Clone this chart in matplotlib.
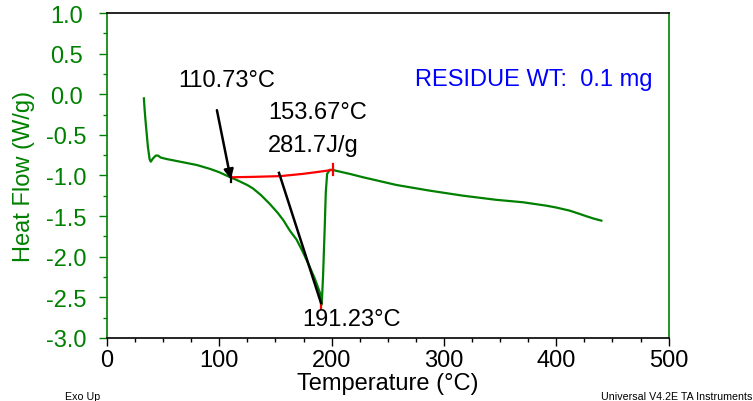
"""DSC thermogram: heat flow vs temperature with melting peak analysis."""

import matplotlib
matplotlib.use('Agg')
import matplotlib.pyplot as plt
from matplotlib.ticker import MultipleLocator, FormatStrFormatter

plt.rcParams['font.family'] = ['Liberation Sans', 'DejaVu Sans']

GREEN = '#008000'

# heat flow curve
temp = [32.9, 33.5, 34.5, 36.5, 38.0, 39.0, 41.0, 43.5, 45.5, 48.0, 53.0,
        65.0, 80.0, 92.0, 100.0, 109.4, 115.0, 120.0, 125.0, 130.0, 137.0,
        145.0, 152.0, 157.0, 162.8, 168.8, 174.0, 180.0, 185.0, 189.5, 191.2,
        192.4, 193.9, 194.8, 196.0, 198.4, 200.8, 216.0, 228.0, 257.7, 287.4,
        317.0, 346.7, 370.4, 391.2, 400.0, 411.9, 420.0, 426.8, 433.0, 440.1]
heat_flow = [-0.05, -0.18, -0.35, -0.65, -0.80, -0.83, -0.79, -0.755, -0.755,
             -0.78, -0.797, -0.83, -0.871, -0.92, -0.96, -1.02, -1.052,
             -1.085, -1.118, -1.16, -1.24, -1.351, -1.46, -1.55, -1.679,
             -1.79, -1.93, -2.11, -2.27, -2.44, -2.59, -2.23, -1.62, -1.21,
             -0.98, -0.93, -0.932, -0.98, -1.022, -1.117, -1.187, -1.249,
             -1.30, -1.33, -1.372, -1.395, -1.433, -1.47, -1.502, -1.53,
             -1.556]

# integration baseline
base_temp = [110.9, 130.2, 154.3, 174.6, 189.5, 201.3]
base_flow = [-1.022, -1.017, -1.008, -0.98, -0.953, -0.93]

onset_temp, onset_flow = 110.73, -1.025
mid_temp, mid_flow = 153.67, -1.008
peak_temp, peak_flow = 191.23, -2.59
end_temp, end_flow = 201.3, -0.93

fig = plt.figure(figsize=(7.53, 4.02), dpi=100)
ax = fig.add_axes([0.142, 0.157, 0.746, 0.808])

ax.plot(temp, heat_flow, color=GREEN, lw=1.6)
ax.plot(base_temp, base_flow, color='red', lw=1.6)

# tick marks on the analysis points
ax.plot([end_temp, end_temp], [end_flow - 0.07, end_flow + 0.07], color='red', lw=1.6)
ax.plot([peak_temp - 0.3, peak_temp - 0.3], [peak_flow - 0.05, peak_flow + 0.03], color='red', lw=1.6)
ax.plot([onset_temp, onset_temp], [onset_flow - 0.06, onset_flow + 0.06], color='black', lw=1.6)

# onset arrow
ax.annotate('', xy=(onset_temp - 0.5, onset_flow - 0.02), xytext=(97.9, -0.196),
            arrowprops=dict(arrowstyle='-|>', color='black', lw=1.8,
                            mutation_scale=14, shrinkA=0, shrinkB=0))
# peak line
ax.plot([mid_temp - 0.5, peak_temp - 0.7], [mid_flow + 0.04, peak_flow + 0.02],
        color='black', lw=1.8)

ax.text(107.0, 0.175, '110.73°C', fontsize=17, ha='center', va='center')
ax.text(143.2, -0.22, '153.67°C', fontsize=17, ha='left', va='center')
ax.text(143.2, -0.625, '281.7J/g', fontsize=17, ha='left', va='center')
ax.text(173.5, -2.766, '191.23°C', fontsize=17, ha='left', va='center')
ax.text(274.0, 0.19, 'RESIDUE WT:  0.1 mg', fontsize=17, ha='left', va='center',
        color='#0000ff')

ax.set_xlim(0, 500)
ax.set_ylim(-3.0, 1.0)
ax.xaxis.set_major_locator(MultipleLocator(100))
ax.xaxis.set_minor_locator(MultipleLocator(25))
ax.yaxis.set_major_locator(MultipleLocator(0.5))
ax.yaxis.set_minor_locator(MultipleLocator(0.25))
ax.yaxis.set_major_formatter(FormatStrFormatter('%.1f'))

ax.tick_params(axis='x', which='major', direction='out', length=6, width=1,
               labelsize=17, pad=2, colors='black')
ax.tick_params(axis='x', which='minor', direction='out', length=3, width=1)
ax.tick_params(axis='y', which='major', direction='out', length=6, width=1,
               labelsize=17, pad=23, colors=GREEN)
ax.tick_params(axis='y', which='minor', direction='out', length=3, width=1,
               colors=GREEN)
for lbl in ax.get_yticklabels():
    lbl.set_horizontalalignment('center')

for side in ('left', 'right'):
    ax.spines[side].set_color(GREEN)
for side in ('top', 'bottom'):
    ax.spines[side].set_color('black')
for sp in ax.spines.values():
    sp.set_linewidth(1.2)

ax.set_xlabel('Temperature (°C)', fontsize=17, labelpad=1)
ax.set_ylabel('Heat Flow (W/g)', fontsize=17, color=GREEN, va='center')
ax.yaxis.set_label_coords(-0.147, 0.5)

fig.text(0.086, 0.006, 'Exo Up', fontsize=7.7)
fig.text(0.999, 0.006, 'Universal V4.2E TA Instruments', fontsize=7.7, ha='right')

fig.savefig('out.png', dpi=100)
